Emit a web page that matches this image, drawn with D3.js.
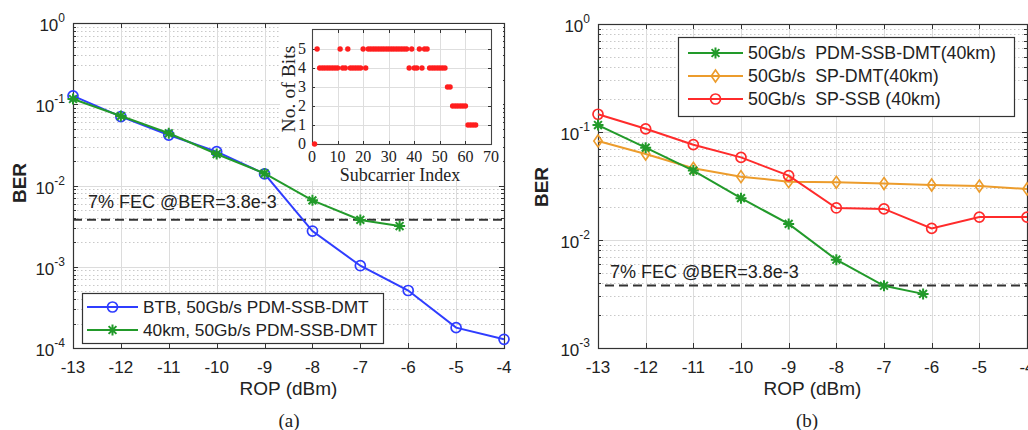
<!DOCTYPE html>
<html>
<head>
<meta charset="utf-8">
<script src="https://cdn.jsdelivr.net/npm/d3@7/dist/d3.min.js"></script>
<style>
  html, body { margin: 0; padding: 0; background: #fff; }
  svg { display: block; }
  text { font-family: "Liberation Sans", Arial, sans-serif; fill: #222; }
  .serif { font-family: "Liberation Serif", "Times New Roman", serif; }
</style>
</head>
<body>
<svg id="fig" width="1028" height="430"></svg>
<script>
// ---- data ----
const ropTicks = [-13, -12, -11, -10, -9, -8, -7, -6, -5, -4];

const btbROP = [-13, -12, -11, -10, -9, -8, -7, -6, -5, -4];
const btbBER = [0.127, 0.0703, 0.0418, 0.0261, 0.0139, 0.00275, 0.00103, 5.1e-4, 1.78e-4, 1.28e-4];

const pdmROP = [-13, -12, -11, -10, -9, -8, -7, -6.18];
const pdmBER = [0.116, 0.0716, 0.0439, 0.0244, 0.0141, 0.00657, 0.00377, 0.00317];

const spROP = [-13, -12, -11, -10, -9, -8, -7, -6, -5, -4];
const spDmtBER = [0.0826, 0.0625, 0.0461, 0.0386, 0.0347, 0.0342, 0.0333, 0.0323, 0.0316, 0.0297];
const spSsbBER = [0.146, 0.107, 0.0763, 0.0582, 0.0394, 0.0198, 0.0194, 0.0128, 0.0163, 0.0163];

const fecBER = 3.8e-3;
const fecLabel = "7% FEC @BER=3.8e-3";

// bit loading per subcarrier (subcarrier 1..64)
const bitsPerSubcarrier = [
  0, 5, 4, 4, 4, 4, 4, 4, 4, 4,
  5, 4, 4, 5, 4, 4, 4, 4, 4, 5,
  4, 5, 5, 5, 5, 5, 5, 5, 5, 5,
  5, 5, 5, 5, 5, 5, 5, 4, 5, 4,
  4, 5, 4, 5, 5, 4, 4, 4, 4, 4,
  4, 4, 3, 3, 2, 2, 2, 2, 2, 2,
  1, 1, 1, 1
];
const insetXTicks = [0, 10, 20, 30, 40, 50, 60, 70];
const insetYTicks = [0, 1, 2, 3, 4, 5];

const C = { blue: "#2f3dff", green: "#229a2a", orange: "#ec9c2c", red: "#ff2b2b" };

const svg = d3.select("#fig");

// ---- marker shapes ----
function drawMarker(g, type, color, x, y) {
  if (type === "circle") {
    g.append("circle").attr("cx", x).attr("cy", y).attr("r", 5)
      .attr("fill", "none").attr("stroke", color).attr("stroke-width", 1.7);
  } else if (type === "diamond") {
    g.append("path").attr("d", `M${x},${y - 6}L${x + 4.2},${y}L${x},${y + 6}L${x - 4.2},${y}Z`)
      .attr("fill", "none").attr("stroke", color).attr("stroke-width", 1.6);
  } else if (type === "star") {
    const r = 5.5, d = 3.9;
    g.append("path")
      .attr("d", `M${x - r},${y}L${x + r},${y}M${x},${y - r}L${x},${y + r}` +
                 `M${x - d},${y - d}L${x + d},${y + d}M${x - d},${y + d}L${x + d},${y - d}`)
      .attr("stroke", color).attr("stroke-width", 2).attr("fill", "none");
  }
}

// ---- one BER vs ROP panel ----
function drawPanel(cfg) {
  const x = d3.scaleLinear().domain([-13, -4]).range([cfg.left, cfg.right]);
  const y = d3.scaleLog().domain(cfg.yDomain).range([cfg.bottom, cfg.top]);
  const g = svg.append("g");

  // minor (dotted) and major grid
  const allY = y.ticks();
  const majorY = allY.filter(v => Math.abs(Math.log10(v) - Math.round(Math.log10(v))) < 1e-9);
  const minorY = allY.filter(v => !majorY.includes(v));
  g.append("g").selectAll("line").data(minorY).join("line")
    .attr("x1", cfg.left).attr("x2", cfg.right)
    .attr("y1", d => Math.round(y(d)) + 0.5).attr("y2", d => Math.round(y(d)) + 0.5)
    .attr("stroke", "#c9c9c9").attr("stroke-width", 1).attr("stroke-dasharray", "1.5,2.5");
  g.append("g").selectAll("line").data(majorY).join("line")
    .attr("x1", cfg.left).attr("x2", cfg.right)
    .attr("y1", d => Math.round(y(d)) + 0.5).attr("y2", d => Math.round(y(d)) + 0.5)
    .attr("stroke", "#dcdcdc").attr("stroke-width", 1);
  g.append("g").selectAll("line").data(ropTicks).join("line")
    .attr("y1", cfg.top).attr("y2", cfg.bottom)
    .attr("x1", d => Math.round(x(d)) + 0.5).attr("x2", d => Math.round(x(d)) + 0.5)
    .attr("stroke", "#dcdcdc").attr("stroke-width", 1);

  // inward ticks on all four sides
  const tk = g.append("g").attr("stroke", "#333").attr("stroke-width", 1);
  ropTicks.forEach(v => {
    const px = Math.round(x(v)) + 0.5;
    tk.append("line").attr("x1", px).attr("x2", px).attr("y1", cfg.bottom).attr("y2", cfg.bottom - 5);
    tk.append("line").attr("x1", px).attr("x2", px).attr("y1", cfg.top).attr("y2", cfg.top + 5);
  });
  allY.forEach(v => {
    const py = Math.round(y(v)) + 0.5;
    const len = majorY.includes(v) ? 5 : 3;
    tk.append("line").attr("x1", cfg.left).attr("x2", cfg.left + len).attr("y1", py).attr("y2", py);
    tk.append("line").attr("x1", cfg.right).attr("x2", cfg.right - len).attr("y1", py).attr("y2", py);
  });

  // frame
  g.append("rect").attr("x", cfg.left + 0.5).attr("y", cfg.top + 0.5)
    .attr("width", cfg.right - cfg.left).attr("height", cfg.bottom - cfg.top)
    .attr("fill", "none").attr("stroke", "#333").attr("stroke-width", 1.2);

  // tick labels
  g.append("g").selectAll("text").data(ropTicks).join("text")
    .attr("x", d => x(d)).attr("y", cfg.bottom + 25)
    .attr("text-anchor", "middle").attr("font-size", 17)
    .text(d => (d < 0 ? "-" : "") + Math.abs(d));
  majorY.forEach(v => {
    const t = g.append("text").attr("x", cfg.left - 8).attr("y", y(v) + 8)
      .attr("text-anchor", "end").attr("font-size", 17);
    t.append("tspan").text("10");
    t.append("tspan").attr("dy", -9).attr("font-size", 12).text(String(Math.round(Math.log10(v))));
  });

  // axis titles and caption
  g.append("text").attr("x", (cfg.left + cfg.right) / 2).attr("y", cfg.bottom + 47)
    .attr("text-anchor", "middle").attr("font-size", 19).text("ROP (dBm)");
  g.append("text").attr("transform", `translate(${cfg.berX},${cfg.berY}) rotate(-90)`)
    .attr("text-anchor", "middle").attr("font-size", 19).attr("font-weight", "bold")
    .attr("fill", "#222").text("BER");
  g.append("text").attr("class", "serif").attr("x", cfg.capX).attr("y", 427)
    .attr("text-anchor", "middle").attr("font-size", 19).text(cfg.caption);

  return { g, x, y };
}

function drawSeries(p, xs, ys, color, marker) {
  const pts = xs.map((v, i) => [p.x(v), p.y(ys[i])]);
  p.g.append("path").attr("d", d3.line()(pts))
    .attr("fill", "none").attr("stroke", color).attr("stroke-width", 2);
  const mg = p.g.append("g");
  pts.forEach(([px, py]) => drawMarker(mg, marker, color, px, py));
}

function drawFec(p, lineStart, labelX, labelY) {
  const py = p.y(fecBER);
  p.g.append("line").attr("x1", p.x(-13) + lineStart).attr("x2", p.x(-4)).attr("y1", py).attr("y2", py)
    .attr("stroke", "#333").attr("stroke-width", 2).attr("stroke-dasharray", "9,5");
  p.g.append("text").attr("x", labelX).attr("y", labelY).attr("font-size", 18).text(fecLabel);
}

function drawLegend(p, box, entries) {
  const lg = p.g.append("g");
  lg.append("rect").attr("x", box.x + 0.5).attr("y", box.y + 0.5).attr("width", box.w).attr("height", box.h)
    .attr("fill", "#fff").attr("stroke", "#333").attr("stroke-width", 1.2);
  entries.forEach((e, i) => {
    const cy = box.y + box.first + i * box.step;
    lg.append("line").attr("x1", box.x + box.lineX0).attr("x2", box.x + box.lineX1).attr("y1", cy).attr("y2", cy)
      .attr("stroke", e.color).attr("stroke-width", 2);
    drawMarker(lg, e.marker, e.color, box.x + (box.lineX0 + box.lineX1) / 2, cy);
    lg.append("text").attr("x", box.x + box.textX).attr("y", cy + 6).attr("font-size", box.fontSize)
      .attr("xml:space", "preserve").text(e.label);
  });
}

// ---- panel (a) ----
const pa = drawPanel({ left: 73, right: 504, top: 23, bottom: 348, yDomain: [1e-4, 1],
  berX: 26, berY: 183, caption: "(a)", capX: 289 });

// white backdrop for the inset
pa.g.append("rect").attr("x", 280).attr("y", 24).attr("width", 223).attr("height", 157).attr("fill", "#fff");

drawFec(pa, 0, 88, 208);
drawSeries(pa, btbROP, btbBER, C.blue, "circle");
drawSeries(pa, pdmROP, pdmBER, C.green, "star");
drawLegend(pa, { x: 82, y: 293, w: 301, h: 50, first: 14, step: 23, lineX0: 5, lineX1: 56, textX: 61, fontSize: 17.3 }, [
  { label: "BTB, 50Gb/s PDM-SSB-DMT", color: C.blue, marker: "circle" },
  { label: "40km, 50Gb/s PDM-SSB-DMT", color: C.green, marker: "star" }
]);

// ---- inset: bit loading ----
(function drawInset() {
  const ix = d3.scaleLinear().domain([0, 70]).range([312, 491]);
  const iy = d3.scaleLinear().domain([0, 6]).range([144, 30]);
  const g = pa.g.append("g");
  g.selectAll(".gx").data(insetXTicks).join("line")
    .attr("x1", d => Math.round(ix(d)) + 0.5).attr("x2", d => Math.round(ix(d)) + 0.5)
    .attr("y1", 30).attr("y2", 144).attr("stroke", "#dedede");
  g.selectAll(".gy").data(insetYTicks).join("line")
    .attr("y1", d => Math.round(iy(d)) + 0.5).attr("y2", d => Math.round(iy(d)) + 0.5)
    .attr("x1", 312).attr("x2", 491).attr("stroke", "#dedede");
  const tk = g.append("g").attr("stroke", "#333");
  insetXTicks.forEach(v => {
    const px = Math.round(ix(v)) + 0.5;
    tk.append("line").attr("x1", px).attr("x2", px).attr("y1", 144).attr("y2", 141);
    tk.append("line").attr("x1", px).attr("x2", px).attr("y1", 30).attr("y2", 33);
  });
  insetYTicks.forEach(v => {
    const py = Math.round(iy(v)) + 0.5;
    tk.append("line").attr("x1", 312).attr("x2", 315).attr("y1", py).attr("y2", py);
    tk.append("line").attr("x1", 491).attr("x2", 488).attr("y1", py).attr("y2", py);
  });
  g.append("rect").attr("x", 312.5).attr("y", 29.5).attr("width", 179).attr("height", 115)
    .attr("fill", "none").attr("stroke", "#444").attr("stroke-width", 1.1);
  g.selectAll("circle").data(bitsPerSubcarrier).join("circle")
    .attr("cx", (d, i) => ix(i + 1)).attr("cy", d => iy(d)).attr("r", 2.7).attr("fill", "#ff1e1e");
  g.selectAll(".tx").data(insetXTicks).join("text").attr("class", "serif")
    .attr("x", d => ix(d)).attr("y", 161.5).attr("text-anchor", "middle").attr("font-size", 16).text(d => d);
  g.selectAll(".ty").data(insetYTicks).join("text").attr("class", "serif")
    .attr("x", 306).attr("y", d => iy(d) + 5).attr("text-anchor", "end").attr("font-size", 16).text(d => d);
  g.append("text").attr("class", "serif").attr("x", 400).attr("y", 181)
    .attr("text-anchor", "middle").attr("font-size", 18).text("Subcarrier Index");
  g.append("text").attr("class", "serif").attr("transform", "translate(295,89) rotate(-90)")
    .attr("text-anchor", "middle").attr("font-size", 19.7).text("No. of Bits");
})();

// ---- panel (b) ----
const pb = drawPanel({ left: 598, right: 1027, top: 24, bottom: 348, yDomain: [1e-3, 1],
  berX: 548, berY: 187, caption: "(b)", capX: 807 });
drawFec(pb, 7, 610, 278);
drawSeries(pb, spROP, spDmtBER, C.orange, "diamond");
drawSeries(pb, spROP, spSsbBER, C.red, "circle");
drawSeries(pb, pdmROP, pdmBER, C.green, "star");
drawLegend(pb, { x: 678, y: 37, w: 336, h: 79, first: 16, step: 23, lineX0: 10, lineX1: 65, textX: 70, fontSize: 17.8 }, [
  { label: "50Gb/s  PDM-SSB-DMT(40km)", color: C.green, marker: "star" },
  { label: "50Gb/s  SP-DMT(40km)", color: C.orange, marker: "diamond" },
  { label: "50Gb/s  SP-SSB (40km)", color: C.red, marker: "circle" }
]);
</script>
</body>
</html>
